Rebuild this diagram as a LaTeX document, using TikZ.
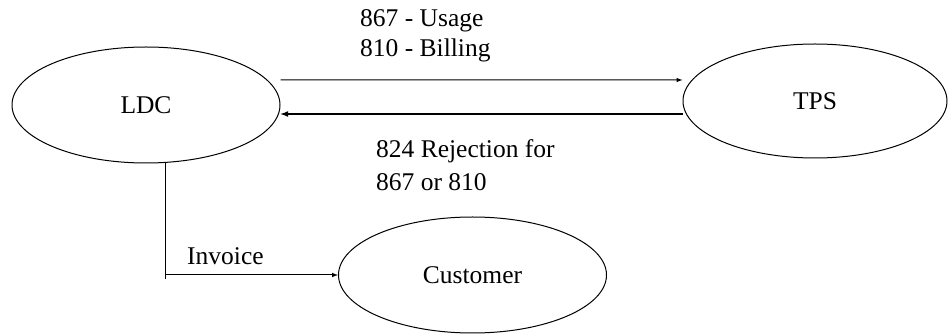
\documentclass[tikz,border=0pt]{standalone}
\usepackage{fontspec}
\setmainfont{Liberation Serif}
\usepackage{tikz}
\usetikzlibrary{positioning,shapes.geometric}

\begin{document}
\begin{tikzpicture}[>=latex,line join=bevel,
  entity/.style={draw,ellipse,line width=1bp,inner sep=0pt,minimum width=268bp,minimum height=116bp,font=\fontsize{25.5bp}{30bp}\selectfont},
  msg/.style={align=left,anchor=west,inner sep=0pt,font=\fontsize{25.5bp}{29.5bp}\selectfont},
  flow/.style={black,->,line width=1bp}]
%%
\useasboundingbox (0bp,0bp) rectangle (949bp,335bp);
\node (LDC) at (146bp,230bp) [entity] {LDC};
  \node (TPS) at (815bp,234bp) [entity,minimum width=264bp,minimum height=114bp] {TPS};
  \node (Customer) at (472.5bp,60bp) [entity] {Customer};
  \node (usage+billing) at (360bp,299bp) [msg] {867 - Usage\\810 - Billing};
  \node (rejection) at (376bp,169.5bp) [msg,font=\fontsize{25.5bp}{33bp}\selectfont] {824 Rejection for\\867 or 810};
  \node (invoice) at (187bp,79bp) [msg] {Invoice};
  \coordinate (bend) at ([xshift=19bp]LDC.south |- Customer.west);
  \draw [flow] ([yshift=25bp]LDC.east) -- ([yshift=21bp]TPS.west);
  \draw [flow,line width=1.6bp] ([yshift=-13bp]TPS.west) -- ([yshift=-9bp]LDC.east);
  \draw [line width=1bp] ([xshift=19bp]LDC.south) -- ([yshift=-4bp]bend);
  \draw [flow] (bend) -- (Customer.west);
%
\end{tikzpicture}
\end{document}
